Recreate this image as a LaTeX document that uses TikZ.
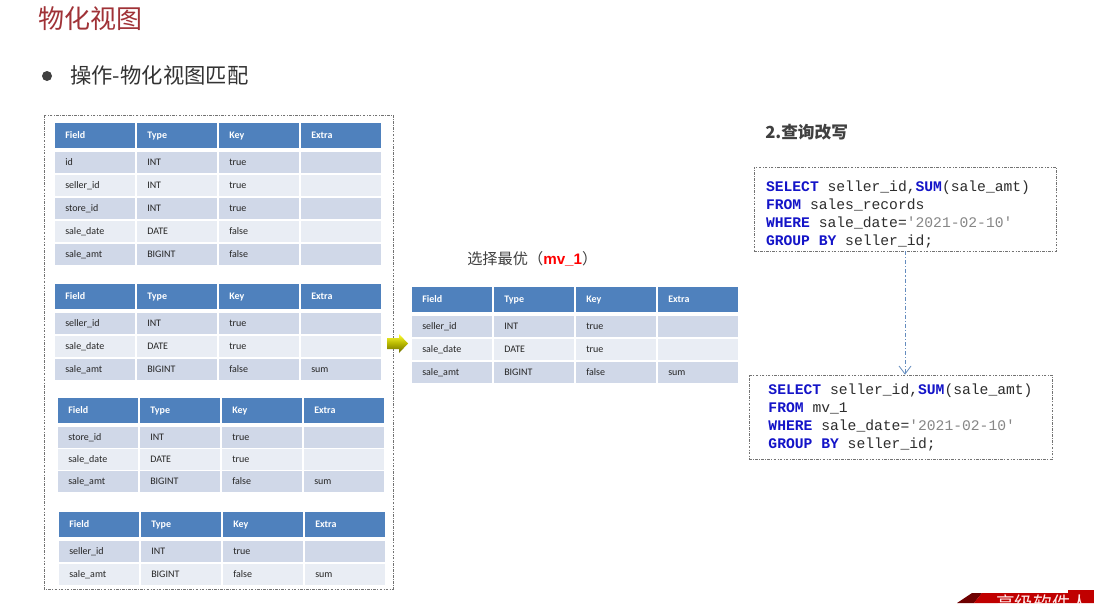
\documentclass[tikz,border=0pt]{standalone}
\usepackage{fontspec}
\usetikzlibrary{arrows.meta}
\setmonofont{Liberation Mono}
\newfontfamily\cjk{Noto Sans CJK SC}
\newfontfamily\tabfont{Carlito}
\newfontfamily\latinfont{Liberation Sans}
\definecolor{titlered}{RGB}{160,50,55}
\definecolor{hdrblue}{RGB}{79,129,189}
\definecolor{rowdark}{RGB}{208,216,232}
\definecolor{rowlight}{RGB}{233,237,244}
\definecolor{kwblue}{RGB}{20,20,200}
\definecolor{strgray}{RGB}{135,135,135}
\definecolor{codetext}{RGB}{45,45,45}
\definecolor{linkblue}{RGB}{100,140,190}
\definecolor{bannerred}{RGB}{192,0,0}
\definecolor{bannerdark}{RGB}{110,0,0}

\newcommand\kw[1]{{\bfseries\color{kwblue}#1}}
\newcommand\str[1]{{\color{strgray}#1}}

% one table: name, left, top, row pitch, rows
\newcommand\mvtable[5]{%
  \foreach \h [count=\c] in {Field,Type,Key,Extra}
    \node[hdrcell] (#1-h\c) at ({#2+(\c-1)*82},#3) {\h};
  \foreach \fa/\ty/\ke/\ex [count=\r] in {#5} {
    \ifodd\r\def\rc{rowdark}\else\def\rc{rowlight}\fi
    \pgfmathsetmacro\ry{#3+29+(\r-1)*#4}
    \node[cell, fill=\rc] (#1-r\r-f) at (#2,\ry) {\fa};
    \node[cell, fill=\rc] (#1-r\r-t) at (#2+82,\ry) {\ty};
    \node[cell, fill=\rc] (#1-r\r-k) at (#2+164,\ry) {\ke};
    \node[cell, fill=\rc] (#1-r\r-e) at (#2+246,\ry) {\ex};
  }%
}

\begin{document}
\begin{tikzpicture}[x=0.75pt, y=-0.75pt,
    hdrcell/.style={anchor=north west, fill=hdrblue, text=white,
      font=\tabfont\bfseries\fontsize{7.5}{9}\selectfont,
      minimum width=60pt, minimum height=18.5pt, text width=45pt,
      inner xsep=7.5pt, inner ysep=0pt, align=left,
      text height=5.5pt, text depth=1.5pt},
    cell/.style={anchor=north west, text=black!85,
      font=\tabfont\fontsize{7.5}{9}\selectfont,
      minimum width=60pt, minimum height=15.75pt, text width=45pt,
      inner xsep=7.5pt, inner ysep=0pt, align=left,
      text height=5.5pt, text depth=1.5pt},
    frame/.style={draw=black!55, line width=0.5pt,
      dash pattern=on 2pt off 1pt on 0.6pt off 1pt},
    sqlbox/.style={frame, align=left, inner ysep=0pt, text=codetext,
      font=\ttfamily\fontsize{11}{13.5}\selectfont},
    link/.style={draw=linkblue, line width=0.6pt,
      dash pattern=on 3pt off 1.5pt on 0.8pt off 1.5pt,
      -{Straight Barb[length=6pt, width=9pt]}}]
    \useasboundingbox (0,0) rectangle (1094,603);
    \fill[white] (0,0) rectangle (1094,603);

    % heading
    \node[anchor=west, text=titlered, font=\cjk\fontsize{19.5}{22}\selectfont, inner sep=0]
        (title) at (38,19) {物化视图};
    \node[circle, fill=black!75, minimum size=7.5pt, inner sep=0] (dot) at (47,76) {};
    \node[anchor=west, text=black!80, font=\cjk\fontsize{16}{18}\selectfont, inner sep=0]
        (op) at (70,75) {操作-物化视图匹配};

    % candidate tables
    \draw[frame] (44,115) rectangle (393,589);
    \mvtable{base}{55}{123}{23}{id/INT/true/{}, seller\_id/INT/true/{},
      store\_id/INT/true/{}, sale\_date/DATE/false/{}, sale\_amt/BIGINT/false/{}}
    \mvtable{mvA}{55}{284}{23}{seller\_id/INT/true/{}, sale\_date/DATE/true/{},
      sale\_amt/BIGINT/false/sum}
    \mvtable{mvB}{58}{398}{22}{store\_id/INT/true/{}, sale\_date/DATE/true/{},
      sale\_amt/BIGINT/false/sum}
    \mvtable{mvC}{59}{512}{23}{seller\_id/INT/true/{}, sale\_amt/BIGINT/false/sum}

    % arrow to best
    \shade[top color=yellow!80!white, bottom color=olive!85!black]
        (387,338) -- (399,338) -- (399,334) -- (408,343.5) -- (399,353)
        -- (399,349) -- (387,349) -- cycle;

    % chosen view
    \node[anchor=west, text=black!75, font=\cjk\fontsize{11.4}{14}\selectfont, inner sep=0]
        (best) at (467,259) {选择最优（{\latinfont\bfseries\color{red}mv\_1}）};
    \mvtable{mvbest}{412}{287}{23}{seller\_id/INT/true/{}, sale\_date/DATE/true/{},
      sale\_amt/BIGINT/false/sum}

    % rewrite
    \node[anchor=west, text=black!75, font=\cjk\bfseries\fontsize{12.5}{14}\selectfont, inner sep=0]
        (rw) at (765,132) {2.查询改写};
    \node[sqlbox, minimum width=226.5pt, minimum height=63pt, text width=208.5pt,
        inner xsep=9pt, text height=16pt] (sql1) at (905,209)
        {\spaceskip=0pt\relax
         \kw{SELECT} seller\_id,\kw{SUM}(sale\_amt)\\
         \kw{FROM} sales\_records\\
         \kw{WHERE} sale\_date=\str{'2021-02-10'}\\
         \kw{GROUP BY} seller\_id;};
    \node[sqlbox, minimum width=227.25pt, minimum height=63pt] (sql2) at (900.5,417)
        {\kw{SELECT} seller\_id,\kw{SUM}(sale\_amt)\\
         \kw{FROM} mv\_1\\
         \kw{WHERE} sale\_date=\str{'2021-02-10'}\\
         \kw{GROUP BY} seller\_id;};
    \draw[link] (sql1.south) -- (sql2.north -| sql1.south);

    % corner banner
    \begin{scope}
        \clip (0,0) rectangle (1094,603);
        \fill[bannerdark] (957,603) -- (972,593) -- (982,593) -- (974,603) -- cycle;
        \fill[bannerred] (974,603) -- (982,593) -- (1068,593) -- (1068,590)
            -- (1094,590) -- (1094,603) -- cycle;
        \node[anchor=north west, text=white!92!red, font=\cjk\fontsize{14}{16}\selectfont,
            inner sep=0] (brand) at (996,594) {高级软件人};
    \end{scope}
\end{tikzpicture}
\end{document}
